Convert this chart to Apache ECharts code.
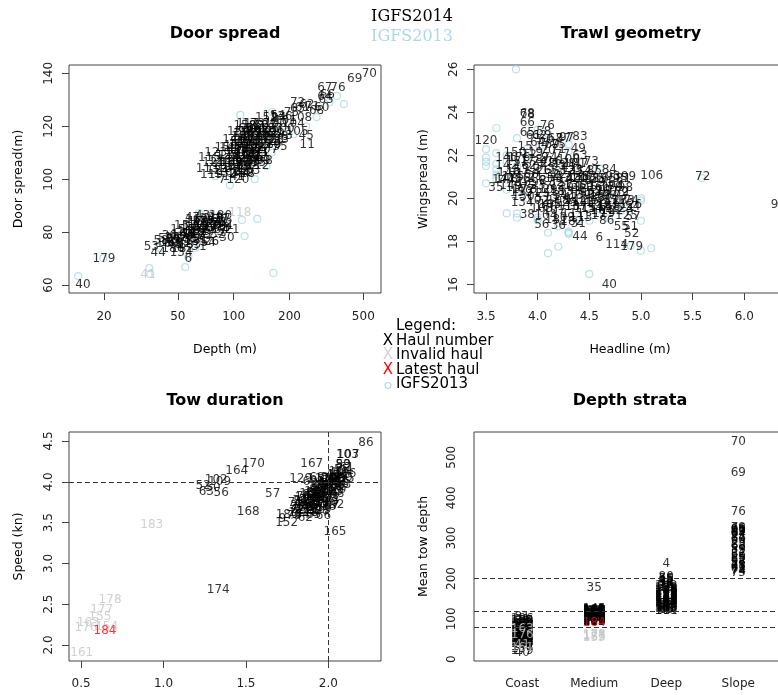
<!DOCTYPE html>
<html>
<head>
<meta charset="utf-8">
<title>IGFS2014 haul checks</title>
<script src="https://cdn.jsdelivr.net/npm/echarts@6/dist/echarts.min.js"></script>
<style>
  html, body { margin: 0; padding: 0; background: #fff; }
  #chart { width: 778px; height: 695px; }
</style>
</head>
<body>
<div id="chart"></div>
<script>
// ---- Door spread: [depth (m), door spread (m), haul] ----
const door2014 = [
    [15.4, 60, 40], [20, 69.8, 179], [36, 74.4, 53], [39.2, 72.1, 44], [40.6, 76.7, 58], [43, 77.5, 50],
    [45, 78.5, 36], [47, 77, 39], [48, 75, 48], [50, 80.8, 15], [52.1, 72.1, 134], [54, 75.5, 52],
    [55, 82.5, 157], [56, 79, 46], [57, 69.8, 6], [58, 82, 14], [60, 78, 49], [60, 85.5, 47],
    [62, 84, 16], [63, 82, 159], [64, 80, 19], [65, 74.4, 31], [66, 77, 51], [67, 83, 20],
    [68, 86, 43], [70, 78.5, 23], [70, 81.5, 147], [72, 85, 24], [73, 76, 54], [74, 81, 25],
    [76, 76.5, 26], [78, 83, 27], [80, 85.5, 29], [82, 79, 32], [84, 83.5, 33], [86, 81, 34],
    [88, 85, 37], [90, 83, 42], [92, 77.8, 30], [98, 80.8, 21],
    [44, 75.5, 160], [46, 76, 161], [49, 78, 162], [51, 77, 163], [53, 79, 164], [55, 77.5, 165],
    [57, 80, 166], [59, 81, 167], [61, 79.5, 168], [63, 84.5, 169], [65, 81, 170], [67, 79, 171],
    [69, 84, 172], [71, 82.5, 173], [75, 84, 174], [77, 80, 175], [79, 82, 176], [81, 84.5, 177],
    [83, 81.5, 178], [85, 86, 180], [87, 82.5, 181], [53, 73.5, 182], [58, 75, 183], [62, 76.5, 185],
    [47, 73.5, 186],
    [72, 104, 113], [74, 108, 115], [76, 101.5, 119], [78, 106, 121], [80, 110, 123], [82, 103, 124],
    [84, 107, 126], [86.5, 99.7, 7], [88, 105, 131], [90, 102, 132], [92, 109, 135], [94, 104, 137],
    [97, 106, 139], [100, 101, 141], [104, 104.5, 143], [105.3, 99.7, 120], [110, 103, 22], [118.3, 102, 28],
    [96, 112, 145], [100, 115, 146], [102, 112.5, 114], [104, 110, 148], [106, 118, 150], [108, 113, 151],
    [110, 107, 153], [112, 109, 10], [112, 116, 156], [114, 117, 116], [115, 120, 158], [116, 111, 160],
    [118, 105, 162], [119, 121, 117], [120, 114, 166], [122, 118, 169], [124, 109, 171], [125, 115, 111],
    [126, 112, 172], [127, 106.5, 73], [128, 121, 173], [130, 106, 175], [132, 116, 176], [134, 110, 181],
    [135, 105, 112], [136, 119, 182], [138, 113, 12], [140, 108, 13], [142, 115, 17], [145, 117, 18],
    [148, 110, 1], [150, 121, 2], [152, 113, 5], [155, 107, 8], [158, 116, 9],
    [98, 108, 44], [101, 111, 47], [103, 106, 49], [105, 114, 51], [107, 108, 52], [109, 116, 54],
    [111, 112, 57], [113, 105, 59], [114, 113, 64], [116, 119, 65], [117, 107, 66], [118, 115, 67],
    [120, 110, 74], [121, 117, 77], [122, 106, 78], [123, 113, 79], [124, 119, 80], [126, 109, 82],
    [127, 116, 83], [128, 111, 84], [129, 118, 85], [131, 108, 86], [131, 114, 87], [133, 120, 88],
    [133, 107, 90], [135, 112, 92], [137, 116, 93], [139, 110, 95], [141, 118, 96], [143, 112, 97],
    [144, 107, 99], [146, 114, 102], [147, 120, 103], [149, 116, 106], [151, 111, 107], [153, 118, 109],
    [156, 113, 110], [159, 119, 127], [162, 115, 128], [164, 117, 129], [168, 121, 130], [172, 115, 133],
    [95, 109, 138], [93, 106, 140], [99, 104, 142], [106, 102, 144], [112, 102.5, 149], [91, 112, 155],
    [115, 109.5, 161], [121, 103, 163],
    [160, 120, 4], [165, 113, 89], [170, 118, 91], [175, 123, 94], [177.8, 112.2, 35], [180, 116, 98],
    [185, 119, 100], [190, 122, 101], [199, 116.3, 3], [210, 121, 104], [220, 118, 105], [230, 123, 108],
    [246, 116.3, 45], [249, 113, 11],
    [150, 123, 152], [165, 124, 154], [180, 123.5, 136], [205, 125, 75], [221, 128.8, 72], [221, 126.5, 63],
    [235, 127, 61], [248, 128, 62], [265, 127.5, 71], [280, 126, 68], [298, 127, 60], [310, 131, 64],
    [315, 130, 65], [320, 132, 66], [310, 134.5, 67], [365, 134.5, 76], [449, 137.9, 69], [539, 139.8, 70]
];
const doorInvalid = [[34.5, 63.8, 41], [108, 87.2, 118]];
const door2013 = [
    [14.5, 63.4], [19.8, 70.2], [35.1, 66.4], [35.5, 64.2], [54.8, 66.8], [65, 87.2], [75.8, 87],
    [110.7, 84.6], [114.5, 78.5], [134, 85], [163.9, 64.6], [108.6, 124.3], [95.4, 97.8], [79.7, 101.2],
    [161, 125.4], [246, 120], [360, 131.5], [393, 128.4], [328, 129], [280, 123.5], [137, 117.5],
    [117, 112], [193, 118], [57, 70.7], [40, 74], [50, 78], [60, 80], [70, 84], [85, 82], [62, 74],
    [45, 76], [90, 86], [100, 103], [120, 108], [140, 115], [160, 110], [130, 100], [110, 118],
    [150, 105], [175, 120], [210, 117], [85, 108]
];

// ---- Trawl geometry: [headline (m), wingspread (m), haul] ----
const trawl2014 = [
    [3.50, 22.66, 120], [3.597, 20.48, 35], [3.668, 20.86, 144], [3.90, 19.23, 38], [4.694, 16.0, 40],
    [4.41, 18.22, 44], [4.597, 18.14, 6], [4.394, 18.81, 31], [4.765, 17.83, 114], [4.91, 17.75, 179],
    [4.91, 18.34, 52], [4.9, 18.68, 51], [4.81, 18.68, 55], [4.924, 19.15, 57], [4.92, 19.61, 54],
    [4.668, 18.96, 86], [4.04, 18.76, 56], [4.2, 18.7, 36], [4.81, 20.27, 59], [4.694, 21.32, 84],
    [4.83, 20.89, 81], [5.104, 21.04, 106], [5.597, 20.98, 72], [6.33, 19.7, 96], [4.41, 22.87, 83],
    [4.094, 23.37, 76], [3.90, 23.49, 66], [3.90, 23.95, 68], [3.90, 23.88, 78], [3.90, 23.03, 65],
    [4.394, 22.28, 49], [4.41, 21.97, 63], [4.52, 21.71, 73], [4.2, 22.25, 71], [4.17, 22.75, 67],
    [4.25, 22.75, 87], [3.86, 20.05, 130],
    [3.70, 21.9, 140], [3.70, 21.5, 142], [3.72, 21.2, 146], [3.70, 20.9, 148], [3.74, 20.6, 149],
    [3.78, 22.1, 150], [3.80, 21.7, 151], [3.80, 21.3, 153], [3.82, 20.9, 156], [3.80, 20.5, 157],
    [3.84, 20.25, 159], [3.88, 21.5, 162], [3.90, 21.1, 166], [3.90, 20.7, 169], [3.92, 22.0, 12],
    [3.92, 20.3, 131], [3.88, 22.4, 15], [3.85, 19.8, 134],
    [3.96, 22.9, 61], [4.0, 22.6, 64], [4.02, 22.9, 62], [4.05, 22.4, 17], [4.08, 22.7, 60],
    [4.1, 22.2, 70], [4.14, 22.5, 69], [4.12, 21.9, 74], [3.98, 22.1, 19], [4.24, 22.0, 77],
    [4.28, 22.8, 97], [4.2, 22.5, 75], [4.06, 23.1, 58],
    [3.95, 21.4, 20], [3.98, 21.0, 21], [4.0, 20.6, 23], [4.02, 21.7, 24], [4.05, 20.2, 25],
    [4.06, 21.3, 26], [4.09, 20.8, 27], [4.1, 21.6, 28], [4.12, 20.4, 29], [4.15, 21.1, 30],
    [4.18, 20.7, 32], [4.2, 21.5, 33], [4.22, 20.1, 34], [4.25, 21.0, 37], [4.28, 20.5, 39],
    [4.3, 21.4, 41], [4.32, 20.0, 42], [4.35, 20.9, 43], [4.38, 21.2, 45], [4.40, 20.4, 46],
    [4.42, 21.6, 47], [4.45, 20.8, 48], [4.48, 20.2, 50], [4.5, 21.0, 53], [4.53, 20.6, 1],
    [4.55, 21.3, 85], [4.58, 20.0, 88], [4.6, 20.9, 89], [4.63, 20.4, 90], [4.66, 20.7, 91],
    [4.7, 20.1, 92], [4.73, 21.0, 93], [4.76, 20.6, 94], [4.8, 20.9, 95], [4.85, 20.5, 98],
    [4.88, 21.0, 99], [4.30, 21.8, 100], [4.36, 21.6, 101],
    [4.0, 19.9, 102], [4.04, 19.5, 103], [4.08, 19.2, 104], [4.12, 19.7, 105], [4.16, 19.4, 107],
    [4.2, 19.9, 108], [4.25, 19.1, 109], [4.3, 19.6, 110], [4.34, 19.3, 111], [4.38, 19.9, 112],
    [4.42, 19.1, 113], [4.46, 19.5, 115], [4.5, 19.8, 116], [4.55, 19.2, 117], [4.6, 19.6, 118],
    [4.64, 19.3, 119], [4.68, 19.7, 121], [4.72, 19.4, 122], [4.76, 19.9, 123], [4.82, 19.5, 124],
    [4.86, 19.2, 125], [4.9, 19.7, 126],
    [3.94, 20.9, 2], [3.96, 20.4, 3], [3.99, 21.2, 4], [4.01, 20.0, 5], [4.03, 21.5, 7], [4.05, 20.8, 8],
    [4.07, 21.9, 9], [4.08, 20.4, 10], [4.11, 21.3, 11], [4.13, 20.0, 13], [4.14, 20.9, 14], [4.16, 21.7, 16],
    [4.19, 20.3, 18], [4.21, 21.1, 22], [4.23, 20.6, 127], [4.26, 21.6, 128], [4.27, 19.8, 129], [4.29, 20.9, 132],
    [4.31, 20.3, 133], [4.33, 21.3, 135], [4.36, 20.6, 136], [4.37, 19.6, 137], [4.39, 21.0, 138], [4.41, 20.1, 139],
    [4.43, 20.9, 141], [4.44, 19.8, 143], [4.47, 20.5, 145], [4.49, 21.3, 147], [4.51, 20.3, 152], [4.52, 19.5, 154],
    [4.54, 20.9, 155], [4.56, 19.9, 158], [4.59, 20.5, 161], [4.61, 20.1, 163], [4.62, 19.4, 164], [4.65, 20.9, 165],
    [4.67, 20.3, 167], [4.69, 19.6, 168], [4.71, 20.5, 170], [4.74, 19.9, 171], [4.78, 20.3, 172], [4.83, 19.9, 173],
    [4.87, 19.9, 174], [3.76, 21.0, 175], [3.82, 21.9, 176], [3.86, 20.4, 177], [3.94, 21.8, 178], [4.08, 19.6, 180],
    [4.18, 19.0, 181], [4.33, 18.9, 182]
];
const trawl2013 = [
    [3.79, 26.0], [3.6, 23.27], [3.5, 22.28], [3.5, 21.9], [3.5, 21.7], [3.5, 21.5], [3.6, 22.1],
    [3.6, 21.6], [3.6, 21.35], [3.6, 21.1], [3.5, 20.7], [3.7, 19.3], [3.8, 19.3], [3.8, 19.1],
    [3.8, 20.3], [3.8, 22.8], [4.1, 17.45], [4.2, 17.75], [4.5, 16.48], [4.3, 18.35], [4.3, 18.45],
    [4.3, 22.2], [4.3, 22.5], [4.3, 22.85], [4.5, 18.96], [4.6, 21.4], [4.8, 19.8], [5.0, 19.9],
    [5.0, 20.0], [5.0, 18.96], [5.0, 17.57], [5.1, 17.68], [4.9, 17.8], [4.69, 19.07], [4.02, 22.4],
    [5.59, 20.94], [3.7, 22.0], [3.7, 21.7], [3.7, 21.0], [3.6, 20.9], [3.9, 22.3], [3.9, 21.9],
    [3.9, 20.0], [4.0, 19.1], [4.0, 19.0], [4.1, 18.4], [4.2, 18.7], [4.3, 18.4], [4.4, 20.3],
    [4.5, 20.6], [4.6, 19.5], [4.7, 20.1], [4.8, 19.4], [4.9, 19.6], [4.4, 19.0], [4.1, 23.0],
    [4.0, 23.2], [4.2, 21.6], [3.7, 20.4], [3.8, 21.5]
];

// ---- Tow duration: [duration (h), speed (kn), haul] ----
const tow2014 = [
    [2.228, 4.472, 86], [2.115, 4.33, 103], [2.12, 4.335, 107], [2.09, 4.21, 83], [1.545, 4.218, 170],
    [1.444, 4.136, 164], [1.32, 4.02, 102], [1.34, 4.0, 109], [1.24, 3.95, 52], [1.30, 3.93, 50],
    [1.26, 3.88, 63], [1.35, 3.87, 56], [1.899, 4.218, 167], [1.832, 4.03, 129], [1.94, 4.03, 117],
    [1.662, 3.847, 57], [1.514, 3.634, 168], [1.747, 3.491, 152], [1.75, 3.593, 180], [1.72, 3.55, 9],
    [2.04, 3.388, 165], [2.05, 3.716, 92], [1.332, 2.674, 174],
    [1.78, 3.62, 1], [1.79, 3.70, 2], [1.80, 3.66, 3], [1.81, 3.75, 5], [1.82, 3.60, 7], [1.83, 3.71, 8],
    [1.84, 3.80, 10], [1.85, 3.66, 11], [1.86, 3.74, 12], [1.87, 3.85, 13], [1.88, 3.62, 14], [1.88, 3.78, 15],
    [1.89, 3.70, 16], [1.90, 3.88, 18], [1.90, 3.81, 19], [1.91, 3.66, 20], [1.92, 3.75, 21], [1.92, 3.93, 22],
    [1.93, 3.84, 23], [1.94, 3.70, 24], [1.94, 3.98, 25], [1.95, 3.79, 26], [1.95, 3.90, 27], [1.96, 3.64, 28],
    [1.96, 3.86, 29], [1.97, 3.95, 30], [1.97, 3.74, 31], [1.98, 4.02, 32], [1.98, 3.82, 33], [1.99, 3.90, 34],
    [2.00, 3.69, 36], [2.00, 3.97, 37], [2.00, 4.05, 38], [2.01, 3.84, 39], [2.01, 3.93, 40], [2.02, 4.01, 42],
    [2.02, 3.77, 43], [2.03, 4.08, 44], [2.03, 3.89, 45], [2.04, 3.97, 46], [2.04, 4.04, 47], [2.05, 3.85, 48],
    [2.05, 4.11, 49], [2.06, 3.94, 51], [2.06, 4.02, 53], [2.07, 4.07, 54], [2.08, 4.14, 55], [2.08, 3.98, 58],
    [2.09, 4.21, 59], [2.10, 4.05, 60], [2.11, 4.17, 61], [1.86, 3.56, 62], [1.84, 3.59, 64], [1.91, 3.60, 65],
    [1.97, 3.58, 66], [2.02, 3.70, 67], [1.93, 4.05, 68], [1.89, 4.00, 69],
    [1.79, 3.58, 70], [1.80, 3.74, 71], [1.81, 3.64, 72], [1.82, 3.68, 73], [1.83, 3.77, 74], [1.84, 3.66, 75],
    [1.85, 3.72, 76], [1.85, 3.81, 77], [1.86, 3.68, 78], [1.87, 3.78, 79], [1.88, 3.70, 80], [1.89, 3.84, 81],
    [1.89, 3.76, 82], [1.90, 3.72, 84], [1.91, 3.86, 85], [1.91, 3.79, 87], [1.92, 3.68, 88], [1.93, 3.90, 89],
    [1.93, 3.78, 90], [1.94, 3.85, 91], [1.95, 3.72, 93], [1.95, 3.95, 94], [1.96, 3.80, 95], [1.97, 3.89, 96],
    [1.98, 3.78, 97], [1.98, 3.96, 98], [1.99, 3.85, 99], [2.00, 4.00, 100], [2.00, 3.80, 101], [2.01, 3.98, 104],
    [2.02, 3.88, 105], [2.03, 3.95, 106], [2.03, 4.03, 108], [2.04, 3.90, 110], [2.05, 4.00, 111], [2.06, 4.08, 112],
    [2.07, 3.96, 113], [2.07, 4.12, 114], [2.09, 4.04, 115], [2.10, 4.10, 116], [1.87, 3.62, 118], [1.95, 3.66, 119],
    [1.99, 3.74, 120]
];
const towInvalid = [
    [0.929, 3.471, 183], [0.676, 2.552, 178], [0.625, 2.429, 177], [0.615, 2.347, 155],
    [0.544, 2.266, 163], [0.53, 2.21, 176], [0.655, 2.224, 154], [0.504, 1.898, 161]
];
const towLatest = [[0.645, 2.175, 184]];

// ---- Depth strata: [stratum (1-4), mean tow depth (m), haul] ----
const strataNames = ['Coast', 'Medium', 'Deep', 'Slope'];
const strataLimits = [80, 120, 200];
const strata2014 = [
    [1, 15.4, 40], [1, 20, 179], [1, 36, 53], [1, 39, 44], [1, 41, 58], [1, 43, 50], [1, 45, 36],
    [1, 47, 39], [1, 48, 48], [1, 50, 15], [1, 52, 134], [1, 54, 52], [1, 56, 46], [1, 57, 6],
    [1, 58, 14], [1, 60, 49], [1, 62, 16], [1, 64, 19], [1, 65, 31], [1, 66, 51], [1, 67, 20],
    [1, 68, 43], [1, 70, 23], [1, 72, 24], [1, 73, 54], [1, 74, 25], [1, 76, 26], [1, 78, 27],
    [1, 80, 29], [1, 82, 32], [1, 84, 33], [1, 86, 34], [1, 88, 37], [1, 92, 30], [1, 98, 21], [1, 104, 81],
    [1, 38, 160], [1, 42, 161], [1, 46, 162], [1, 49, 163], [1, 51, 164], [1, 53, 165], [1, 55, 166],
    [1, 59, 167], [1, 61, 168], [1, 63, 169], [1, 66, 170], [1, 69, 171], [1, 71, 172], [1, 75, 173],
    [1, 77, 174], [1, 79, 175], [1, 81, 176], [1, 83, 177], [1, 85, 178], [1, 87, 180], [1, 90, 181],
    [1, 94, 182], [1, 96, 185], [1, 100, 186], [1, 30, 147], [1, 25, 157],
    [2, 92, 102], [2, 94, 103], [2, 96, 106], [2, 98, 107], [2, 100, 109], [2, 101, 110], [2, 103, 111],
    [2, 104, 112], [2, 106, 113], [2, 107, 115], [2, 108, 116], [2, 110, 119], [2, 111, 121], [2, 112, 122],
    [2, 113, 125], [2, 114, 127], [2, 115, 129], [2, 116, 131], [2, 117, 133], [2, 118, 135], [2, 119, 137],
    [2, 120, 139], [2, 121, 141], [2, 122, 143], [2, 124, 145], [2, 178, 35],
    [2, 93, 1], [2, 95, 2], [2, 97, 5], [2, 99, 7], [2, 100.5, 8], [2, 102, 9], [2, 103.5, 10],
    [2, 105, 12], [2, 106.5, 13], [2, 108, 17], [2, 109, 18], [2, 110.5, 22], [2, 112, 28], [2, 113.5, 87],
    [2, 115, 89], [2, 116.5, 91], [2, 118, 94], [2, 119.5, 98], [2, 121, 146], [2, 123, 148], [2, 93, 150],
    [2, 97, 151], [2, 101, 153], [2, 105, 156], [2, 109, 158], [2, 113, 160], [2, 117, 162], [2, 121, 166],
    [2, 95, 169], [2, 99, 171], [2, 103, 172], [2, 107, 173], [2, 111, 175], [2, 115, 176], [2, 119, 181],
    [2, 123, 182],
    [3, 120, 101], [3, 123, 85], [3, 126, 88], [3, 128, 90], [3, 131, 93], [3, 133, 95], [3, 136, 97],
    [3, 138, 99], [3, 141, 100], [3, 143, 104], [3, 146, 105], [3, 149, 108], [3, 152, 117], [3, 155, 124],
    [3, 158, 126], [3, 161, 128], [3, 164, 130], [3, 167, 132], [3, 170, 136], [3, 174, 138], [3, 178, 140],
    [3, 182, 142], [3, 186, 3], [3, 191, 11], [3, 196, 45], [3, 203, 80], [3, 237, 4],
    [3, 121, 114], [3, 124, 118], [3, 127, 120], [3, 130, 123], [3, 132, 144], [3, 135, 149], [3, 137, 152],
    [3, 140, 154], [3, 142, 155], [3, 145, 159], [3, 148, 127], [3, 151, 129], [3, 154, 131], [3, 157, 133],
    [3, 160, 137], [3, 163, 139], [3, 166, 141], [3, 169, 143], [3, 172, 145], [3, 176, 19], [3, 180, 26],
    [3, 184, 27], [3, 188, 38], [3, 193, 42], [3, 199, 55],
    [4, 213, 75], [4, 218, 74], [4, 221, 72], [4, 224, 63], [4, 229, 61], [4, 235, 57], [4, 240, 58],
    [4, 246, 62], [4, 252, 55], [4, 258, 56], [4, 265, 71], [4, 272, 59], [4, 280, 68], [4, 288, 73],
    [4, 296, 60], [4, 303, 77], [4, 310, 64], [4, 314, 67], [4, 318, 65], [4, 322, 66], [4, 326, 79],
    [4, 232, 78], [4, 262, 82], [4, 284, 83], [4, 300, 84], [4, 316, 89], [4, 320, 91],
    [4, 365, 76], [4, 462, 69], [4, 539, 70]
];
const strataInvalid = [
    [1, 28, 161], [1, 34.5, 41], [1, 60, 176], [1, 75, 163],
    [2, 53, 155], [2, 56, 183], [2, 58, 177], [2, 60, 178]
];
const strataLatest = [[2, 90.6, 184]];

// ---- Legend ----
const legendLabels = ['Haul number', 'Invalid haul', 'Latest haul', 'IGFS2013'];
const legendColors = ['#000000', '#d3d3d3', '#ff0000', '#add8e6'];

const FONT = 'DejaVu Sans';
const GREY = '#c4c4c4';
const BLUE = '#add8e6';

function labelSeries(grid, points, color, extra) {
    return Object.assign({
        type: 'scatter',
        xAxisIndex: grid,
        yAxisIndex: grid,
        symbolSize: 1,
        itemStyle: { color: 'rgba(0,0,0,0)' },
        data: points,
        label: {
            show: true,
            position: 'inside',
            formatter: p => String(p.value[2]),
            color: color,
            fontSize: 12,
            fontFamily: FONT
        },
        silent: true,
        animation: false
    }, extra || {});
}

function circleSeries(grid, points) {
    return {
        type: 'scatter',
        xAxisIndex: grid,
        yAxisIndex: grid,
        symbol: 'circle',
        symbolSize: 7,
        itemStyle: { color: 'rgba(0,0,0,0)', borderColor: BLUE, borderWidth: 1.2 },
        data: points,
        silent: true,
        animation: false
    };
}

function dashed(lines) {
    return {
        silent: true,
        symbol: ['none', 'none'],
        label: { show: false },
        lineStyle: { type: [5, 3], color: '#333', width: 1 },
        animation: false,
        data: lines
    };
}

function axis(o) {
    const isY = o.dim === 'y';
    return {
        gridIndex: o.grid,
        type: o.type || 'value',
        min: o.min,
        max: o.max,
        position: isY ? 'left' : 'bottom',
        splitLine: { show: false },
        axisLine: { show: false },
        axisTick: { show: o.ticks !== false, length: 7, customValues: o.values, lineStyle: { color: '#444' } },
        axisLabel: {
            customValues: o.values,
            formatter: o.fmt,
            rotate: isY ? 90 : 0,
            margin: o.margin != null ? o.margin : (isY ? 14 : 18),
            color: '#222',
            fontSize: 12,
            fontFamily: FONT
        },
        name: o.name || '',
        nameLocation: 'middle',
        nameGap: isY ? 44 : 50,
        nameTextStyle: { color: '#000', fontSize: 12.5, fontFamily: FONT }
    };
}

const one = v => Number(v).toFixed(1);

const gridBase = { show: true, borderColor: '#444', borderWidth: 1, backgroundColor: 'transparent', outerBoundsMode: 'none', containLabel: false };

function txt(x, y, text, style) {
    return {
        type: 'text', x: x, y: y, silent: true,
        style: Object.assign({
            text: text, fill: '#000', fontSize: 15, fontFamily: FONT,
            align: 'left', textAlign: 'left', verticalAlign: 'middle', textVerticalAlign: 'middle'
        }, style || {})
    };
}

const titleStyle = { fontSize: 16, fontWeight: 'bold', align: 'center', textAlign: 'center' };

const graphics = [
    txt(412, 17, 'IGFS2014', { fontFamily: 'DejaVu Serif', fontSize: 16, align: 'center', textAlign: 'center' }),
    txt(412, 37, 'IGFS2013', { fontFamily: 'DejaVu Serif', fontSize: 16, fill: BLUE, align: 'center', textAlign: 'center' }),
    txt(225, 34, 'Door spread', titleStyle),
    txt(631, 34, 'Trawl geometry', titleStyle),
    txt(225, 401, 'Tow duration', titleStyle),
    txt(630, 401, 'Depth strata', titleStyle),
    txt(396, 326, 'Legend:')
];
legendLabels.forEach((lab, i) => {
    const y = 341 + i * 14.5;
    if (i < 3) {
        graphics.push(txt(388, y, 'X', { fill: legendColors[i], align: 'center', textAlign: 'center' }));
    } else {
        graphics.push({ type: 'circle', silent: true, shape: { cx: 388, cy: y + 1, r: 3 },
            style: { fill: 'none', stroke: legendColors[i], lineWidth: 1.2 } });
    }
    graphics.push(txt(396, y, lab));
});

const chart = echarts.init(document.getElementById('chart'), null, { renderer: 'canvas' });

chart.setOption({
    backgroundColor: '#ffffff',
    animation: false,
    grid: [
        Object.assign({ left: 69, top: 65, width: 312, height: 228 }, gridBase),
        Object.assign({ left: 474, top: 65, width: 312, height: 228 }, gridBase),
        Object.assign({ left: 69, top: 432, width: 312, height: 229 }, gridBase),
        Object.assign({ left: 474, top: 432, width: 312, height: 229 }, gridBase)
    ],
    xAxis: [
        axis({ grid: 0, dim: 'x', type: 'log', min: 12.95, max: 622.7, values: [20, 50, 100, 200, 500], name: 'Depth (m)' }),
        axis({ grid: 1, dim: 'x', min: 3.384, max: 6.404, values: [3.5, 4, 4.5, 5, 5.5, 6], fmt: one, name: 'Headline (m)' }),
        axis({ grid: 2, dim: 'x', min: 0.427, max: 2.319, values: [0.5, 1, 1.5, 2], fmt: one, margin: 17 }),
        axis({ grid: 3, dim: 'x', min: 0.33, max: 4.663, values: [1, 2, 3, 4], ticks: false, margin: 17,
            fmt: v => strataNames[Math.round(v) - 1] })
    ],
    yAxis: [
        axis({ grid: 0, dim: 'y', min: 57, max: 143.17, values: [60, 80, 100, 120, 140], name: 'Door spread(m)' }),
        axis({ grid: 1, dim: 'y', min: 15.6, max: 26.2, values: [16, 18, 20, 22, 24, 26], name: 'Wingspread (m)' }),
        axis({ grid: 2, dim: 'y', min: 1.804, max: 4.61, values: [2, 2.5, 3, 3.5, 4, 4.5], fmt: one, name: 'Speed (kn)' }),
        axis({ grid: 3, dim: 'y', min: -4.2, max: 562.6, values: [0, 100, 200, 300, 400, 500], ticks: false, margin: 16,
            name: 'Mean tow depth' })
    ],
    graphic: graphics,
    series: [
        circleSeries(0, door2013),
        labelSeries(0, door2014, '#000'),
        labelSeries(0, doorInvalid, GREY),

        circleSeries(1, trawl2013),
        labelSeries(1, trawl2014, '#000'),

        labelSeries(2, tow2014, '#000', { markLine: dashed([{ yAxis: 4.0 }, { xAxis: 2.0 }]) }),
        labelSeries(2, towInvalid, GREY),
        labelSeries(2, towLatest, '#ff0000'),

        labelSeries(3, strata2014, '#000', { markLine: dashed(strataLimits.map(v => ({ yAxis: v }))) }),
        labelSeries(3, strataInvalid, GREY),
        labelSeries(3, strataLatest, '#ff0000')
    ]
});
</script>
</body>
</html>
